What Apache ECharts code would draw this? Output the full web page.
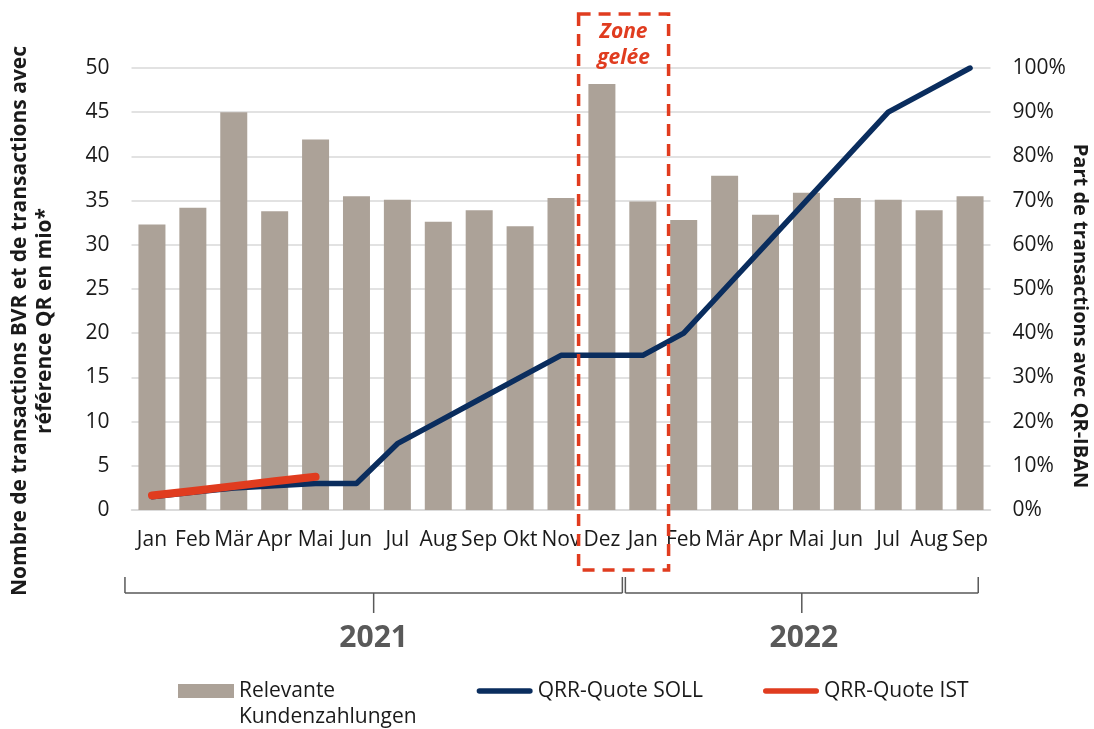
<!DOCTYPE html>
<html>
<head>
<meta charset="utf-8">
<script src="https://cdn.jsdelivr.net/npm/echarts@6/dist/echarts.min.js"></script>
<style>
  html, body { margin: 0; padding: 0; background: #fff; }
  #chart { width: 1094px; height: 729px; }
</style>
</head>
<body>
<div id="chart"></div>
<script>
const months = ["Jan", "Feb", "Mär", "Apr", "Mai", "Jun", "Jul", "Aug", "Sep", "Okt", "Nov", "Dez",
  "Jan", "Feb", "Mär", "Apr", "Mai", "Jun", "Jul", "Aug", "Sep"];
const payments = [32.3, 34.2, 45.0, 33.8, 41.9, 35.5, 35.1, 32.6, 33.9, 32.1, 35.3, 48.2,
  34.9, 32.8, 37.8, 33.4, 35.9, 35.3, 35.1, 33.9, 35.5];
const quoteSoll = [3, 4, 5, 5.5, 6, 6, 15, 20, 25, 30, 35, 35, 35, 40, 50, 60, 70, 80, 90, 95, 100];
const quoteIst = [3.3, 4.3, 5.4, 6.5, 7.5];
const years = ["2021", "2022"];
const leftTicks = { min: 0, max: 50, interval: 5 };
const rightTicks = { min: 0, max: 100, interval: 10 };

const FONT = "Open Sans";
const GREY = "#aca298";
const BLUE = "#0a2d5e";
const RED = "#e03c1f";
const lineIcon = "path://M3,0 L57,0 A3,3 0 0 1 57,6 L3,6 A3,3 0 0 1 3,0 Z";

const chart = echarts.init(document.getElementById("chart"));

chart.setOption({
  animation: false,
  textStyle: { fontFamily: FONT },
  grid: { left: 131.5, right: 103.5, top: 68, bottom: 219 },
  legend: {
    left: 178,
    top: 652,
    padding: 0,
    itemGap: 60,
    itemWidth: 56,
    itemHeight: 14,
    symbolKeepAspect: true,
    selectedMode: false,
    itemStyle: { borderWidth: 0 },
    textStyle: { fontFamily: FONT, fontSize: 21, color: "#1a1a1a", lineHeight: 26 },
    // empty first line keeps "Relevante" level with the icon
    formatter: (name) => (name.startsWith("Relevante") ? " \n" + name : name),
    data: [
      { name: "Relevante\nKundenzahlungen", icon: "rect" },
      { name: "QRR-Quote SOLL", icon: lineIcon },
      { name: "QRR-Quote IST", icon: lineIcon },
    ],
  },
  xAxis: {
    type: "category",
    data: months,
    axisLine: { lineStyle: { color: "#d9d9d9", width: 1.5 } },
    axisTick: { show: false },
    axisLabel: {
      interval: 0,
      hideOverlap: false,
      margin: 20,
      fontSize: 21,
      color: "#1a1a1a",
      fontFamily: FONT,
    },
  },
  yAxis: [
    {
      type: "value",
      ...leftTicks,
      axisLine: { show: false },
      axisTick: { show: false },
      splitLine: { lineStyle: { color: "#d9d9d9", width: 1.5 } },
      axisLabel: { margin: 22, fontSize: 21, color: "#1a1a1a", fontFamily: FONT },
    },
    {
      type: "value",
      ...rightTicks,
      axisLine: { show: false },
      axisTick: { show: false },
      splitLine: { show: false },
      axisLabel: {
        margin: 22,
        fontSize: 21,
        color: "#1a1a1a",
        fontFamily: FONT,
        formatter: "{value}%",
      },
    },
  ],
  series: [
    {
      name: "Relevante\nKundenzahlungen",
      type: "bar",
      data: payments,
      barWidth: "66%",
      itemStyle: { color: GREY },
    },
    {
      name: "QRR-Quote SOLL",
      type: "line",
      yAxisIndex: 1,
      data: quoteSoll,
      showSymbol: false,
      symbol: "none",
      color: BLUE,
      lineStyle: { color: BLUE, width: 5.5, cap: "round", join: "round" },
      z: 3,
    },
    {
      name: "QRR-Quote IST",
      type: "line",
      yAxisIndex: 1,
      data: quoteIst,
      showSymbol: false,
      symbol: "none",
      color: RED,
      lineStyle: { color: RED, width: 8, cap: "round", join: "round" },
      z: 4,
    },
  ],
});

// annotations positioned from the category scale
function drawAnnotations() {
  const px = (i) => chart.convertToPixel({ xAxisIndex: 0 }, i);
  const step = px(1) - px(0);
  const boxL = px(11) - 0.57 * step;
  const boxR = px(12) + 0.63 * step;

  const bLeft = px(0) - 0.66 * step;
  const sep = (px(11) + px(12)) / 2;
  const bRight = px(20) + 0.2 * step;
  const lineY = 593;
  const mid1 = (bLeft + sep) / 2;
  const mid2 = (sep + 3 + bRight) / 2;
  const bracket = { stroke: "#595959", lineWidth: 1.5 };

  const seg = (x1, y1, x2, y2) => ({
    type: "line",
    shape: { x1, y1, x2, y2 },
    style: bracket,
    silent: true,
  });

  chart.setOption({
    graphic: [
      {
        type: "rect",
        shape: { x: boxL, y: 14, width: boxR - boxL, height: 556 },
        style: { fill: "none", stroke: RED, lineWidth: 3.5, lineDash: [12, 8] },
        z: 10,
        silent: true,
      },
      {
        type: "text",
        x: (boxL + boxR) / 2,
        y: 45,
        style: {
          text: "Zone\ngelée",
          fill: RED,
          font: `italic bold 21px "${FONT}"`,
          lineHeight: 26,
          align: "center",
          verticalAlign: "middle",
        },
        z: 10,
      },
      seg(bLeft, 577, bLeft, lineY),
      seg(bLeft, lineY, sep, lineY),
      seg(sep, 577, sep, lineY),
      seg(sep + 3, 577, sep + 3, lineY),
      seg(sep + 3, lineY, bRight, lineY),
      seg(bRight, 577, bRight, lineY),
      seg(mid1, lineY, mid1, 613),
      seg(mid2, lineY, mid2, 613),
      ...years.map((y, i) => ({
        type: "text",
        x: i === 0 ? mid1 : mid2 + 2,
        y: 638,
        style: {
          text: y,
          fill: "#595959",
          font: `bold 30px "${FONT}"`,
          align: "center",
          verticalAlign: "middle",
        },
      })),
      {
        type: "text",
        x: 33,
        y: 321,
        rotation: Math.PI / 2,
        style: {
          text: "Nombre de transactions BVR et de transactions avec\nréférence QR en mio*",
          fill: "#1a1a1a",
          font: `bold 21px "${FONT}"`,
          lineHeight: 25,
          align: "center",
          verticalAlign: "middle",
        },
      },
      {
        type: "text",
        x: 1080,
        y: 316,
        rotation: -Math.PI / 2,
        style: {
          text: "Part de transactions avec QR-IBAN",
          fill: "#1a1a1a",
          font: `bold 20px "${FONT}"`,
          align: "center",
          verticalAlign: "middle",
        },
      },
    ],
  });
}

drawAnnotations();
</script>
</body>
</html>
